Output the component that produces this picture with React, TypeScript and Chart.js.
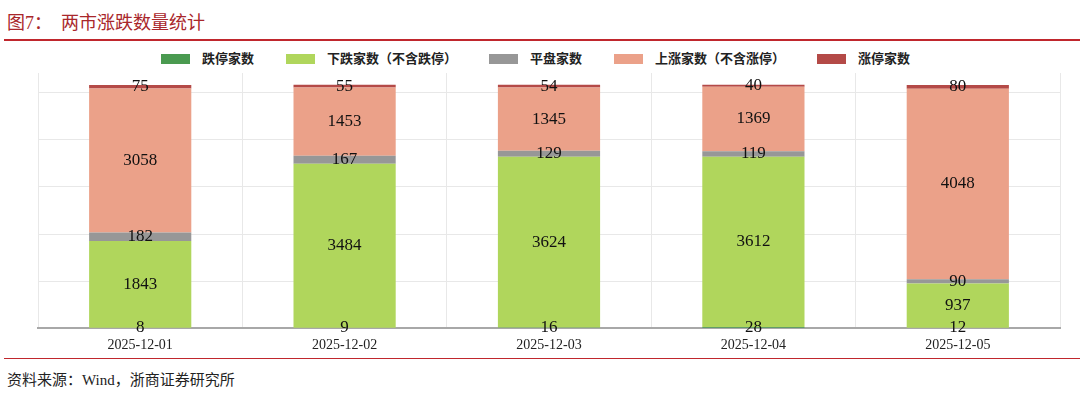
import React, { useEffect, useRef } from "react";
import { Chart, registerables } from "chart.js";

Chart.register(...registerables);

const categories = ["2025-12-01", "2025-12-02", "2025-12-03", "2025-12-04", "2025-12-05"];
const limitDown = [8, 9, 16, 28, 12];
const declines = [1843, 3484, 3624, 3612, 937];
const flat = [182, 167, 129, 119, 90];
const advances = [3058, 1453, 1345, 1369, 4048];
const limitUp = [75, 55, 54, 40, 80];
const gridValues = [0, 1000, 2000, 3000, 4000, 5000];

const seriesNames = ["跌停家数", "下跌家数（不含跌停）", "平盘家数", "上涨家数（不含涨停）", "涨停家数"];
const seriesColors = ["#4a9a50", "#b0d65c", "#979797", "#eba189", "#b44a47"];

const serif = "'Liberation Serif', 'Noto Sans CJK SC', serif";

const labelPlugin = {
  id: "segLabels",
  afterDatasetsDraw(chart: any) {
    const ctx = chart.ctx;
    ctx.save();
    ctx.fillStyle = "#111";
    ctx.font = `17px ${serif}`;
    ctx.textAlign = "center";
    ctx.textBaseline = "middle";
    chart.data.datasets.forEach((ds: any, di: number) => {
      const meta = chart.getDatasetMeta(di);
      meta.data.forEach((el: any, i: number) => {
        const v = ds.data[i];
        const cy = (el.y + el.base) / 2;
        ctx.fillText(String(v), el.x, cy);
      });
    });
    ctx.restore();
  },
};

export default function App() {
  const ref = useRef<HTMLCanvasElement>(null);
  useEffect(() => {
    const data = [limitDown, declines, flat, advances, limitUp];
    const chart = new Chart(ref.current!, {
      type: "bar",
      data: {
        labels: categories,
        datasets: data.map((d, i) => ({
          label: seriesNames[i],
          data: d,
          backgroundColor: seriesColors[i],
          borderWidth: 0,
          categoryPercentage: 1,
          barPercentage: 0.5,
        })),
      },
      options: {
        animation: false,
        responsive: false,
        maintainAspectRatio: false,
        layout: { padding: { left: 38, right: 20, top: 29, bottom: 0 } },
        plugins: { legend: { display: false }, tooltip: { enabled: false } },
        scales: {
          x: {
            stacked: true,
            grid: { offset: true, color: "#e8e8e8", drawTicks: false },
            border: { color: "#a8a8a8", width: 2 },
            ticks: { color: "#222", font: { family: serif, size: 14 }, padding: 9 },
          },
          y: {
            stacked: true,
            min: 0,
            max: 5420,
            afterBuildTicks: (axis: any) => {
              axis.ticks = gridValues.map((v) => ({ value: v }));
            },
            grid: { color: "#e8e8e8", drawTicks: false },
            border: { display: false },
            ticks: { display: false },
          },
        },
      },
      plugins: [labelPlugin],
    });
    return () => chart.destroy();
  }, []);

  return (
    <div style={{ position: "absolute", left: 0, top: 0, width: 1080, height: 399, background: "#fff", overflow: "hidden" }}>
      <div style={{ position: "absolute", left: 7, top: 8, fontFamily: serif, fontSize: 18, color: "#a9272b", whiteSpace: "pre" }}>
        {"图7：  两市涨跌数量统计"}
      </div>
      <div style={{ position: "absolute", left: 4, top: 39, width: 1076, height: 2, background: "#c0272d" }} />
      <div style={{ position: "absolute", left: 0, top: 51, width: 1080, display: "flex", justifyContent: "flex-start", paddingLeft: 161, boxSizing: "border-box" }}>
        {seriesNames.map((n, i) => (
          <div key={n} style={{ display: "flex", alignItems: "center", marginRight: 32 }}>
            <div style={{ width: 29, height: 10, background: seriesColors[i], marginRight: 12 }} />
            <span style={{ fontFamily: serif, fontSize: 13, fontWeight: "bold", color: "#222", lineHeight: "16px" }}>{n}</span>
          </div>
        ))}
      </div>
      <canvas ref={ref} width={1080} height={319} style={{ position: "absolute", left: 0, top: 44, width: 1080, height: 319 }} />
      <div style={{ position: "absolute", left: 4, top: 358, width: 1076, height: 1, background: "#c0272d" }} />
      <div style={{ position: "absolute", left: 7, top: 368, fontFamily: serif, fontSize: 15, color: "#222" }}>
        资料来源：Wind，浙商证券研究所
      </div>
    </div>
  );
}
